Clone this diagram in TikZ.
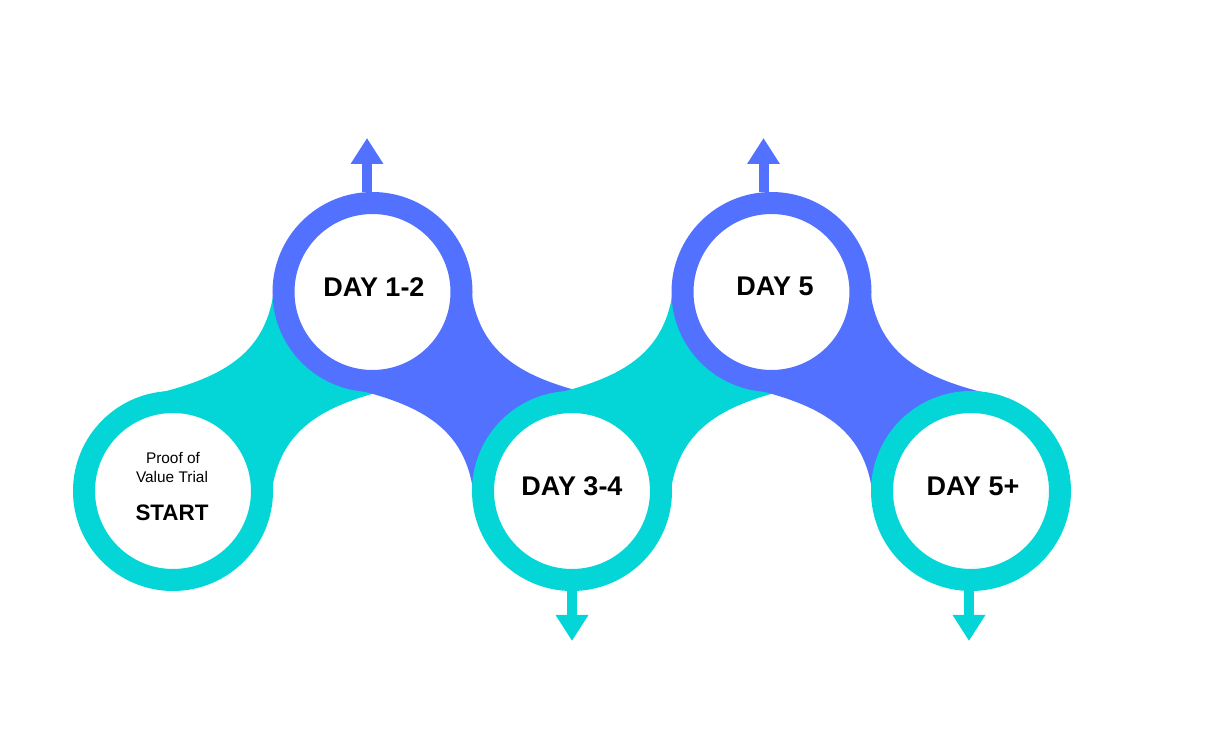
\documentclass[tikz,border=0pt]{standalone}
\usepackage{fontspec}
\setmainfont{Liberation Sans}
\usetikzlibrary{arrows.meta,calc}
\definecolor{trialteal}{HTML}{04D6D7}
\definecolor{trialblue}{HTML}{5271FF}
\pgfdeclarelayer{background}
\pgfsetlayers{background,main}

\begin{document}
\begin{tikzpicture}
        [x=0.5pt,y=-0.5pt,
         ring/.style={circle,draw=#1,fill=white,line width=11pt,minimum size=89pt,inner sep=0pt},
         daytext/.style={anchor=base,font=\fontsize{13.5}{16}\selectfont\bfseries},
         smalltext/.style={anchor=base,font=\fontsize{7.7}{9}\selectfont},
         pointer/.style={draw=#1,line width=5pt,-{Triangle[width=15.5pt,length=13pt]}}]
        \useasboundingbox (0,0) rectangle (1228,754);
        %Stations
        \node[ring=trialteal] (S)   at (173,491)   {};
        \node[ring=trialblue] (D12) at (372.5,292) {};
        \node[ring=trialteal] (D34) at (572,491)   {};
        \node[ring=trialblue] (D5)  at (771.5,292) {};
        \node[ring=trialteal] (D5p) at (971,491)   {};

        %Labels
        \node[smalltext] (tproof) at (173,464) {Proof of};
        \node[smalltext] (tvalue) at (172,483) {Value Trial};
        \node[daytext,font=\fontsize{11.2}{13}\selectfont\bfseries] (tstart) at (172,521) {START};
        \node[daytext] (t12)  at (374,297) {DAY 1-2};
        \node[daytext] (t34)  at (572,495) {DAY 3-4};
        \node[daytext] (t5)   at (775,296) {DAY 5};
        \node[daytext] (t5p)  at (973,495) {DAY 5+};

        %Necks between stations
        \begin{pgfonlayer}{background}
        \foreach \a/\b/\s/\col in {S/D12/1/trialteal, D12/D34/-1/trialblue, D34/D5/1/trialteal, D5/D5p/-1/trialblue}
          \fill[\col] ($(\a)+(-32,{-94*(\s)})$) .. controls ($(\a)+(57,{-113*(\s)})$) and ($(\b)+(-99,{58*(\s)})$) .. ($(\b)+(-97,{-22*(\s)})$)
            -- (\b.center) -- ($(\b)+(32,{94*(\s)})$) .. controls ($(\b)+(-57,{113*(\s)})$) and ($(\a)+(99,{-58*(\s)})$) .. ($(\a)+(97,{22*(\s)})$)
            -- (\a.center) -- cycle;
        \end{pgfonlayer}

        %Pointers
        \coordinate (up1) at (367,138);
        \coordinate (up2) at (763.5,138);
        \coordinate (dn1) at (572,641);
        \coordinate (dn2) at (969,641);
        \draw[pointer=trialblue] (up1 |- D12.north) -- (up1);
        \draw[pointer=trialblue] (up2 |- D5.north) -- (up2);
        \draw[pointer=trialteal] (dn1 |- D34.south) -- (dn1);
        \draw[pointer=trialteal] (dn2 |- D5p.south) -- (dn2);
\end{tikzpicture}
\end{document}
